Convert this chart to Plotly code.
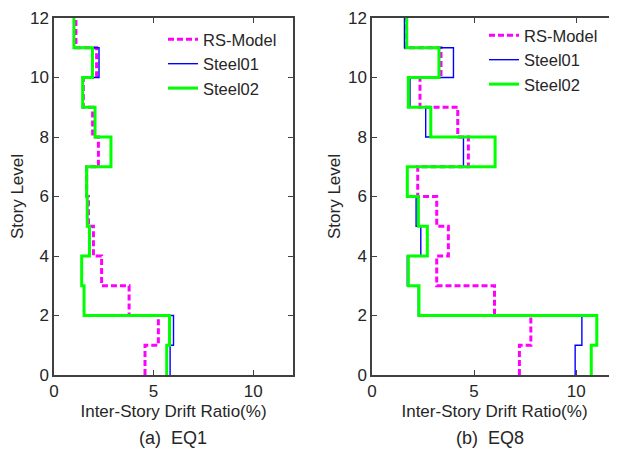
import plotly.graph_objects as go

# Story levels (boundaries 0..12); each story i spans level i-1 .. i
levels = list(range(0, 13))

# EQ1 inter-story drift ratios (%) for stories 1..12
eq1_rs = [4.57, 5.24, 3.77, 2.39, 1.98, 1.73, 1.64, 2.23, 1.94, 1.47, 2.14, 1.10]
eq1_s01 = [5.83, 6.00, 1.51, 1.39, 1.78, 1.67, 1.64, 2.86, 2.06, 1.44, 2.26, 1.00]
eq1_s02 = [5.66, 5.80, 1.51, 1.39, 1.78, 1.67, 1.64, 2.86, 2.06, 1.44, 1.93, 1.00]

# EQ8 inter-story drift ratios (%) for stories 1..12
eq8_rs = [7.22, 7.78, 6.00, 3.17, 3.74, 3.17, 2.24, 4.72, 4.20, 2.35, 3.38, 1.65]
eq8_s01 = [9.95, 10.28, 2.27, 1.73, 2.39, 2.16, 1.73, 4.48, 2.63, 1.86, 3.99, 1.59]
eq8_s02 = [10.74, 11.01, 2.30, 1.78, 2.71, 2.27, 1.73, 6.03, 2.88, 1.78, 3.28, 1.70]

series_names = ["RS-Model", "Steel01", "Steel02"]
x_ticks = [0, 5, 10]
y_ticks = [0, 2, 4, 6, 8, 10, 12]
captions = ["(a)  EQ1", "(b)  EQ8"]

FONT = "Liberation Sans, Arial, sans-serif"
TXT = "#262626"
# page body has an 8px margin; figure sized to fill the rest of the window
OFF = 8
W, H = 617 - OFF, 457 - OFF


def fx(px):
    return (px - OFF) / W


def fy(py):
    return 1 - (py - OFF) / H


styles = [
    dict(color="#FF00FF", width=3, dash="6px,3px"),
    dict(color="#0000FF", width=1.4),
    dict(color="#00FF00", width=3),
]

fig = go.Figure()


def step_xy(vals):
    # point (v_i, i-1) for each story, plus top endpoint
    xs = list(vals) + [vals[-1]]
    return xs, levels


panels = [
    (eq1_rs, eq1_s01, eq1_s02),
    (eq8_rs, eq8_s01, eq8_s02),
]
for p, data in enumerate(panels):
    xa = "x" if p == 0 else "x2"
    ya = "y" if p == 0 else "y2"
    lg = "legend" if p == 0 else "legend2"
    for name, vals, st in zip(series_names, data, styles):
        xs, ys = step_xy(vals)
        fig.add_trace(go.Scatter(
            x=xs, y=ys, mode="lines", name=name,
            line=dict(shape="vh", **st),
            xaxis=xa, yaxis=ya, legend=lg, showlegend=True, cliponaxis=False,
        ))

axis_common = dict(
    range=[0, 12], showgrid=False, zeroline=False, automargin=False,
    showline=True, linecolor="#404040", linewidth=1.5, mirror="ticks",
    ticks="inside", ticklen=5, tickwidth=1, tickcolor="#404040",
    ticklabeloverflow="allow",
    tickfont=dict(family=FONT, size=17, color=TXT),
)

xt = dict(text="Inter-Story Drift Ratio(%)", font=dict(size=17, color=TXT), standoff=5)
yt = dict(text="Story Level", font=dict(size=17, color=TXT), standoff=3)
leg_font = dict(family=FONT, size=16.5, color=TXT)

fig.update_layout(
    width=W, height=H,
    margin=dict(l=0, r=0, t=0, b=0, autoexpand=False),
    paper_bgcolor="white", plot_bgcolor="white",
    font=dict(family=FONT, color=TXT),
    xaxis=dict(domain=[fx(54), fx(293)], anchor="y", tickvals=x_ticks, title=xt, **axis_common),
    yaxis=dict(domain=[fy(375), fy(18)], anchor="x", tickvals=y_ticks, title=yt, **axis_common),
    xaxis2=dict(domain=[fx(372), 1.0], anchor="y2", tickvals=x_ticks, title=xt, **axis_common),
    yaxis2=dict(domain=[fy(375), fy(18)], anchor="x2", tickvals=y_ticks, title=yt, **axis_common),
    legend=dict(x=fx(163), y=fy(22), xanchor="left", yanchor="top",
                bgcolor="rgba(0,0,0,0)", font=leg_font, tracegroupgap=0, itemwidth=30),
    legend2=dict(x=fx(484), y=fy(18), xanchor="left", yanchor="top",
                 bgcolor="rgba(0,0,0,0)", font=leg_font, tracegroupgap=0, itemwidth=30),
    annotations=[
        dict(text=captions[0], x=fx(173), y=fy(438), xref="paper", yref="paper",
             xanchor="center", yanchor="middle",
             showarrow=False, font=dict(family=FONT, size=18, color=TXT)),
        dict(text=captions[1], x=fx(490), y=fy(438), xref="paper", yref="paper",
             xanchor="center", yanchor="middle",
             showarrow=False, font=dict(family=FONT, size=18, color=TXT)),
    ],
)

fig.write_html("out.html")
